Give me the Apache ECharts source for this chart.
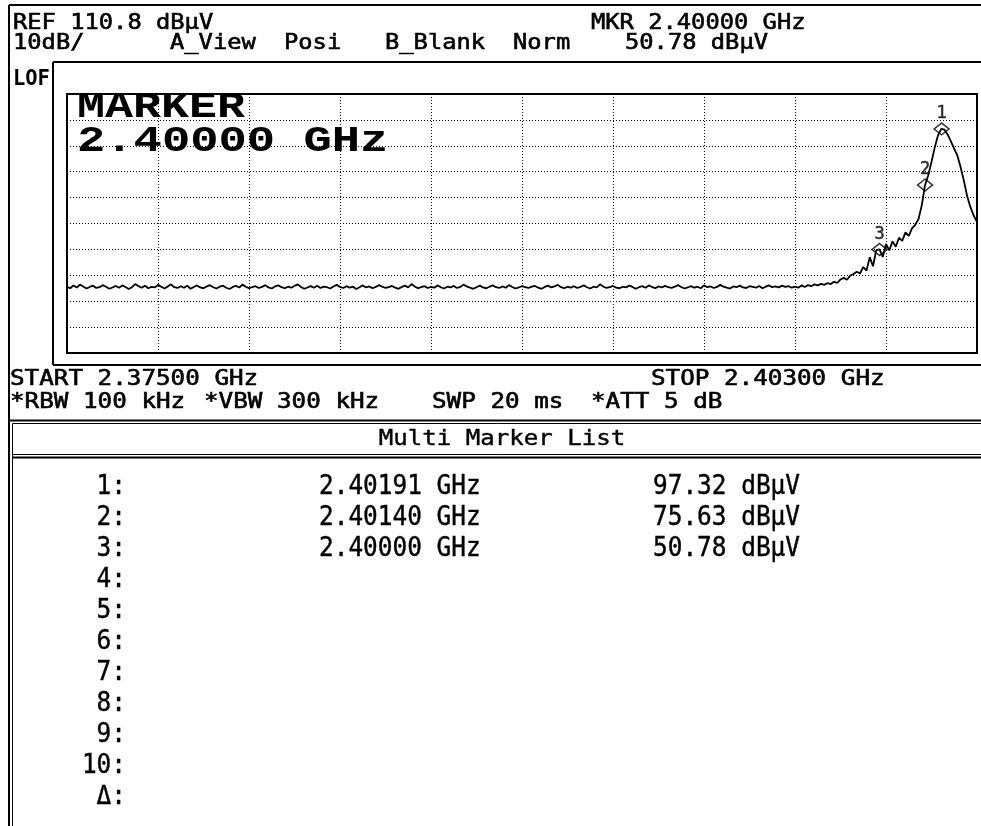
<!DOCTYPE html>
<html>
<head>
<meta charset="utf-8">
<script src="https://cdn.jsdelivr.net/npm/echarts@6/dist/echarts.min.js"></script>
<style>
html,body{margin:0;padding:0;background:#fff;}
#chart{width:981px;height:826px;}
</style>
</head>
<body>
<div id="chart"></div>
<script>
// ---- Instrument settings (from screen text) ----
const REF_LEVEL = 110.8;        // dBµV, top of screen
const DB_PER_DIV = 10;
const DIVS_Y = 10;
const START_GHZ = 2.375;
const STOP_GHZ = 2.403;
const DIVS_X = 10;

// ---- Trace levels (dBµV), one per sweep point, START..STOP ----
const traceLevels = [
  36.4,35.8,36.9,36.1,37.2,36.5,35.7,36.3,36.8,35.9,36.2,37.0,36.4,35.6,36.1,36.7,
  36.0,36.9,36.3,35.5,36.2,37.4,36.6,36.0,36.8,35.8,36.3,36.1,37.1,36.4,35.7,36.5,
  37.3,36.2,35.9,36.6,36.0,36.8,35.6,36.3,36.9,36.1,35.8,36.5,37.0,36.2,35.7,36.4,
  36.8,36.0,35.5,36.3,36.7,36.1,37.2,36.4,35.8,36.2,36.6,35.9,36.3,37.0,36.1,35.7,
  36.5,36.9,36.2,35.8,36.4,36.0,36.7,37.3,36.3,35.6,36.1,36.6,36.0,36.8,35.9,36.4,
  36.2,35.7,36.5,37.1,36.3,35.9,36.6,36.0,36.4,35.5,36.2,36.9,36.1,36.5,35.8,36.3,
  37.0,36.4,35.9,36.2,36.7,36.0,35.6,36.3,36.8,36.1,37.4,36.5,35.8,36.2,36.6,35.9,
  36.3,36.0,36.9,36.2,35.7,36.4,36.1,36.7,35.9,36.3,37.2,36.5,36.0,35.6,36.2,36.8,
  36.1,35.8,36.4,36.9,36.2,35.9,36.5,36.0,37.0,36.3,35.7,36.1,36.6,36.2,35.9,36.4,
  36.7,36.0,35.6,36.3,36.8,36.1,36.5,37.1,36.2,35.8,36.4,36.0,36.6,35.9,36.3,36.9,
  36.2,35.7,36.4,36.1,37.3,36.5,35.9,36.2,36.7,36.0,35.8,36.4,36.1,36.8,36.3,35.6,
  36.2,36.6,36.0,36.9,36.3,35.8,36.5,36.1,36.7,36.2,35.9,36.4,37.0,36.3,35.7,36.1,
  36.6,36.0,36.4,35.8,36.9,36.2,36.5,35.9,36.3,37.1,36.4,36.0,35.7,36.5,36.2,36.8,
  36.1,35.9,36.6,36.3,36.0,36.7,35.8,36.4,36.9,36.2,36.5,36.1,36.8,36.3,36.6,36.0,
  36.4,36.0,36.9,36.3,37.0,36.6,37.3,36.9,37.5,37.1,37.8,37.4,38.3,37.9,39.2,39.8,
  39.1,40.7,41.3,42.2,41.5,44.0,42.6,47.8,44.3,50.5,50.8,47.9,52.9,50.4,53.9,51.8,
  55.3,54.1,57.4,56.0,58.9,60.3,62.5,67.8,75.6,79.4,84.6,90.2,94.8,97.3,97.0,95.1,
  92.4,89.6,86.9,82.3,77.1,71.2,67.0,63.8,61.4
];

// ---- Markers ----
const markerNames = ['1', '2', '3'];
const markerFreqs = [2.40191, 2.40140, 2.40000];   // GHz
const markerLevels = [97.32, 75.63, 50.78];         // dBµV

// ---- Marker list rows ----
const listRowLabels = ['1:', '2:', '3:', '4:', '5:', '6:', '7:', '8:', '9:', '10:', 'Δ:'];

// ---- Screen annotation texts ----
const refText = 'REF 110.8 dBµV';
const mkrText = 'MKR 2.40000 GHz';
const mkrLevelText = '50.78 dBµV';
const row2Texts = ['10dB/', 'A_View', 'Posi', 'B_Blank', 'Norm'];
const startText = 'START 2.37500 GHz';
const stopText = 'STOP 2.40300 GHz';
const row4Texts = ['*RBW 100 kHz', '*VBW 300 kHz', 'SWP 20 ms', '*ATT 5 dB'];

// ---- Build series data in axis units (MHz from start, dB above bottom line) ----
const BOTTOM_LEVEL = REF_LEVEL - DB_PER_DIV * DIVS_Y;
const spanMHz = (STOP_GHZ - START_GHZ) * 1000;
const nPts = traceLevels.length;
const traceData = traceLevels.map((lv, i) => [i * spanMHz / (nPts - 1), lv - BOTTOM_LEVEL]);
const markerData = markerFreqs.map((f, i) => ({
  value: [(f - START_GHZ) * 1000, markerLevels[i] - BOTTOM_LEVEL],
  label: { formatter: markerNames[i] }
}));

const MONO = '"DejaVu Sans Mono", "Liberation Mono", monospace';
function txt(str, x, y, size, pitch, opt) {
  opt = opt || {};
  const adv = (opt.adv || 0.602) * size;
  const st = {
    text: str, x: 0, y: 0,
    font: (opt.weight || 'normal') + ' ' + size + 'px ' + (opt.family || MONO),
    fill: '#000',
    align: opt.align || 'left', textAlign: opt.align || 'left',
    verticalAlign: 'middle', textVerticalAlign: 'middle'
  };
  if (opt.stroke) { st.stroke = '#000'; st.lineWidth = opt.stroke; }
  return { type: 'text', x: x, y: y, scaleX: pitch / adv, silent: true, z: 100, style: st };
}
function ln(x1, y1, x2, y2, w) {
  return { type: 'line', silent: true, z: 90, shape: { x1, y1, x2, y2 }, style: { stroke: '#000', lineWidth: w || 1 } };
}

const graphics = [];
// frame lines
graphics.push(ln(9, 5, 981, 5, 2));
graphics.push(ln(9, 5, 9, 826, 2));
graphics.push(ln(53, 62, 981, 62, 2));
graphics.push(ln(53, 62, 53, 365, 2));
graphics.push(ln(53, 365, 981, 365, 2));
graphics.push(ln(9, 420.5, 981, 420.5, 2));
graphics.push(ln(12.5, 423.5, 981, 423.5, 1));
graphics.push(ln(12.5, 423.5, 12.5, 826, 1));
graphics.push(ln(12.5, 454.5, 981, 454.5, 1));
graphics.push(ln(12.5, 457.5, 981, 457.5, 2));

const S = 0.6; // slight stroke to thicken the screen font
// header texts
graphics.push(txt(refText, 13, 23, 22, 14.3, { stroke: S }));
graphics.push(txt(mkrText, 591, 23, 22, 14.3, { stroke: S }));
const row2X = [13, 170, 284, 385, 513];
row2Texts.forEach((t, i) => graphics.push(txt(t, row2X[i], 43, 22, 14.3, { stroke: S })));
graphics.push(txt(mkrLevelText, 625, 43, 22, 14.3, { stroke: S }));
graphics.push(txt('LOF', 13, 79, 22, 12.3, { weight: 'bold' }));

// big marker readout inside the graticule
const BIG = '"Liberation Mono", "Courier New", monospace';
graphics.push(txt('MARKER', 77, 108, 37, 28.0, { weight: 'bold', family: BIG, adv: 0.6 }));
graphics.push(txt(mkrText.replace('MKR ', ''), 77, 142, 37, 28.3, { weight: 'bold', family: BIG, adv: 0.6 }));

// bottom info rows
graphics.push(txt(startText, 10, 379.5, 21, 14.6, { stroke: S }));
graphics.push(txt(stopText, 651, 379.5, 21, 14.6, { stroke: S }));
const row4X = [10, 204, 432, 591];
row4Texts.forEach((t, i) => graphics.push(txt(t, row4X[i], 402.5, 21, 14.6, { stroke: S })));

// marker list
graphics.push(txt('Multi Marker List', 502, 439, 22, 14.5, { align: 'center', stroke: 0.4 }));
listRowLabels.forEach((lab, k) => {
  const y = 487 + 31 * k;
  graphics.push(txt(lab, 126, y, 26, 14.7, { align: 'right', stroke: 0.4 }));
  if (k < markerFreqs.length) {
    graphics.push(txt(markerFreqs[k].toFixed(5) + ' GHz', 319, y, 26, 14.7, { stroke: 0.4 }));
    graphics.push(txt(markerLevels[k].toFixed(2) + ' dBµV', 653, y, 26, 14.7, { stroke: 0.4 }));
  }
});

const chart = echarts.init(document.getElementById('chart'), null, { renderer: 'canvas' });
chart.setOption({
  animation: false,
  backgroundColor: '#fff',
  grid: { left: 67, top: 94, width: 910, height: 259, show: true, borderColor: '#000', borderWidth: 2, backgroundColor: 'transparent', z: 5 },
  xAxis: {
    type: 'value', min: 0, max: spanMHz, interval: spanMHz / DIVS_X,
    axisLine: { show: false }, axisTick: { show: false }, axisLabel: { show: false },
    splitLine: { show: true, lineStyle: { color: '#000', width: 1, type: [1, 2] } }
  },
  yAxis: {
    type: 'value', min: 0, max: DB_PER_DIV * DIVS_Y, interval: DB_PER_DIV,
    axisLine: { show: false }, axisTick: { show: false }, axisLabel: { show: false },
    splitLine: { show: true, lineStyle: { color: '#000', width: 1, type: [1, 2] } }
  },
  series: [
    {
      type: 'line', data: traceData, showSymbol: false, symbol: 'none',
      lineStyle: { color: '#000', width: 1.8 }, z: 10, clip: true
    },
    {
      type: 'scatter', data: markerData, symbol: 'diamond', symbolSize: [15, 12],
      itemStyle: { color: 'rgba(255,255,255,0)', borderColor: '#000', borderWidth: 1.5 },
      label: { show: true, position: 'top', distance: 0, color: '#000', fontSize: 17, fontFamily: MONO, textBorderColor: '#000', textBorderWidth: 0.5 },
      z: 12
    }
  ],
  graphic: { elements: graphics }
});
</script>
</body>
</html>
